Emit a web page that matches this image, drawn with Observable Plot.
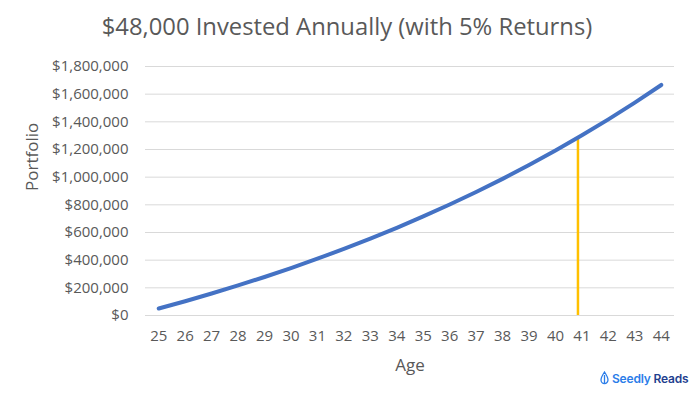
<!DOCTYPE html>
<html><head><meta charset="utf-8">
<script src="https://cdn.jsdelivr.net/npm/d3@7"></script>
<script src="https://cdn.jsdelivr.net/npm/@observablehq/plot@0.6"></script>
<style>
body{margin:0;background:#fff;}
#wrap{position:relative;width:694px;height:397px;overflow:hidden;font-family:"Open Sans",sans-serif;}
#chart{position:absolute;left:0;top:0;}
#title{position:absolute;left:0;width:694px;top:10px;text-align:center;font-size:23.8px;line-height:32px;color:#595959;}
#logo{position:absolute;left:600px;top:369px;height:18px;display:flex;align-items:center;font-family:"Inter",sans-serif;font-size:12px;font-weight:600;white-space:nowrap;letter-spacing:-0.2px;}
#logo .s{color:#2b7de9;margin-left:3px;}
#logo .r{color:#1f3f8f;margin-left:3px;}
</style>
</head><body>
<div id="wrap">
  <div id="chart"></div>
  <div id="title">$48,000 Invested Annually (with 5% Returns)</div>
  <div id="logo"><svg width="9" height="14" viewBox="0 0 9 14"><path d="M4.5 1 C2.5 4 1 6.5 1 9 A3.5 3.5 0 0 0 8 9 C8 6.5 6.5 4 4.5 1 Z M4.5 4 L4.5 12.5" fill="none" stroke="#2b7de9" stroke-width="1.3"/></svg><span class="s">Seedly</span><span class="r">Reads</span></div>
</div>
<script>
const ages = [25,26,27,28,29,30,31,32,33,34,35,36,37,38,39,40,41,42,43,44];
const portfolio = [50400,103300,158900,217200,278500,342800,410400,481300,555700,633900,716000,802200,892700,987800,1087600,1192300,1302400,1417900,1539200,1666500];
const yTicks = [0,200000,400000,600000,800000,1000000,1200000,1400000,1600000,1800000];
const markerAge = [40.85];
const markerValue = [1288000];

const data = ages.map((a,i)=>({age:a, value:portfolio[i]}));
const marker = markerAge.map((a,i)=>({age:a, value:markerValue[i]}));
const fmt = d3.format(",");
const font = "'Open Sans', sans-serif";

const chart = Plot.plot({
  width:694, height:397,
  marginTop:66, marginBottom:82, marginLeft:145, marginRight:20,
  style:{fontFamily:font, fontSize:"15px", color:"#595959", background:"transparent"},
  x:{type:"linear", domain:[24.5,44.5]},
  y:{domain:[0,1800000]},
  marks:[
    Plot.gridY(yTicks,{stroke:"#d9d9d9", strokeOpacity:1, strokeWidth:1}),
    Plot.axisY(yTicks,{tickSize:0, tickPadding:17, tickFormat:d=>"$"+fmt(d), fill:"#595959", fontSize:15, label:null}),
    Plot.axisX(ages,{tickSize:0, tickPadding:15, tickFormat:d=>String(d), fill:"#595959", fontSize:15, label:null}),
    Plot.ruleX(marker,{x:"age", y1:0, y2:"value", stroke:"#FFC000", strokeWidth:2.5}),
    Plot.line(data,{x:"age", y:"value", stroke:"#4472C4", strokeWidth:4, strokeLinecap:"round", strokeLinejoin:"round"}),
    Plot.text(["Age"],{frameAnchor:"bottom", dy:55, fill:"#595959", fontSize:17}),
    Plot.text(["Portfolio"],{frameAnchor:"left", dx:-113, rotate:-90, fill:"#595959", fontSize:17})
  ]
});
document.getElementById("chart").appendChild(chart);
</script>
</body></html>
